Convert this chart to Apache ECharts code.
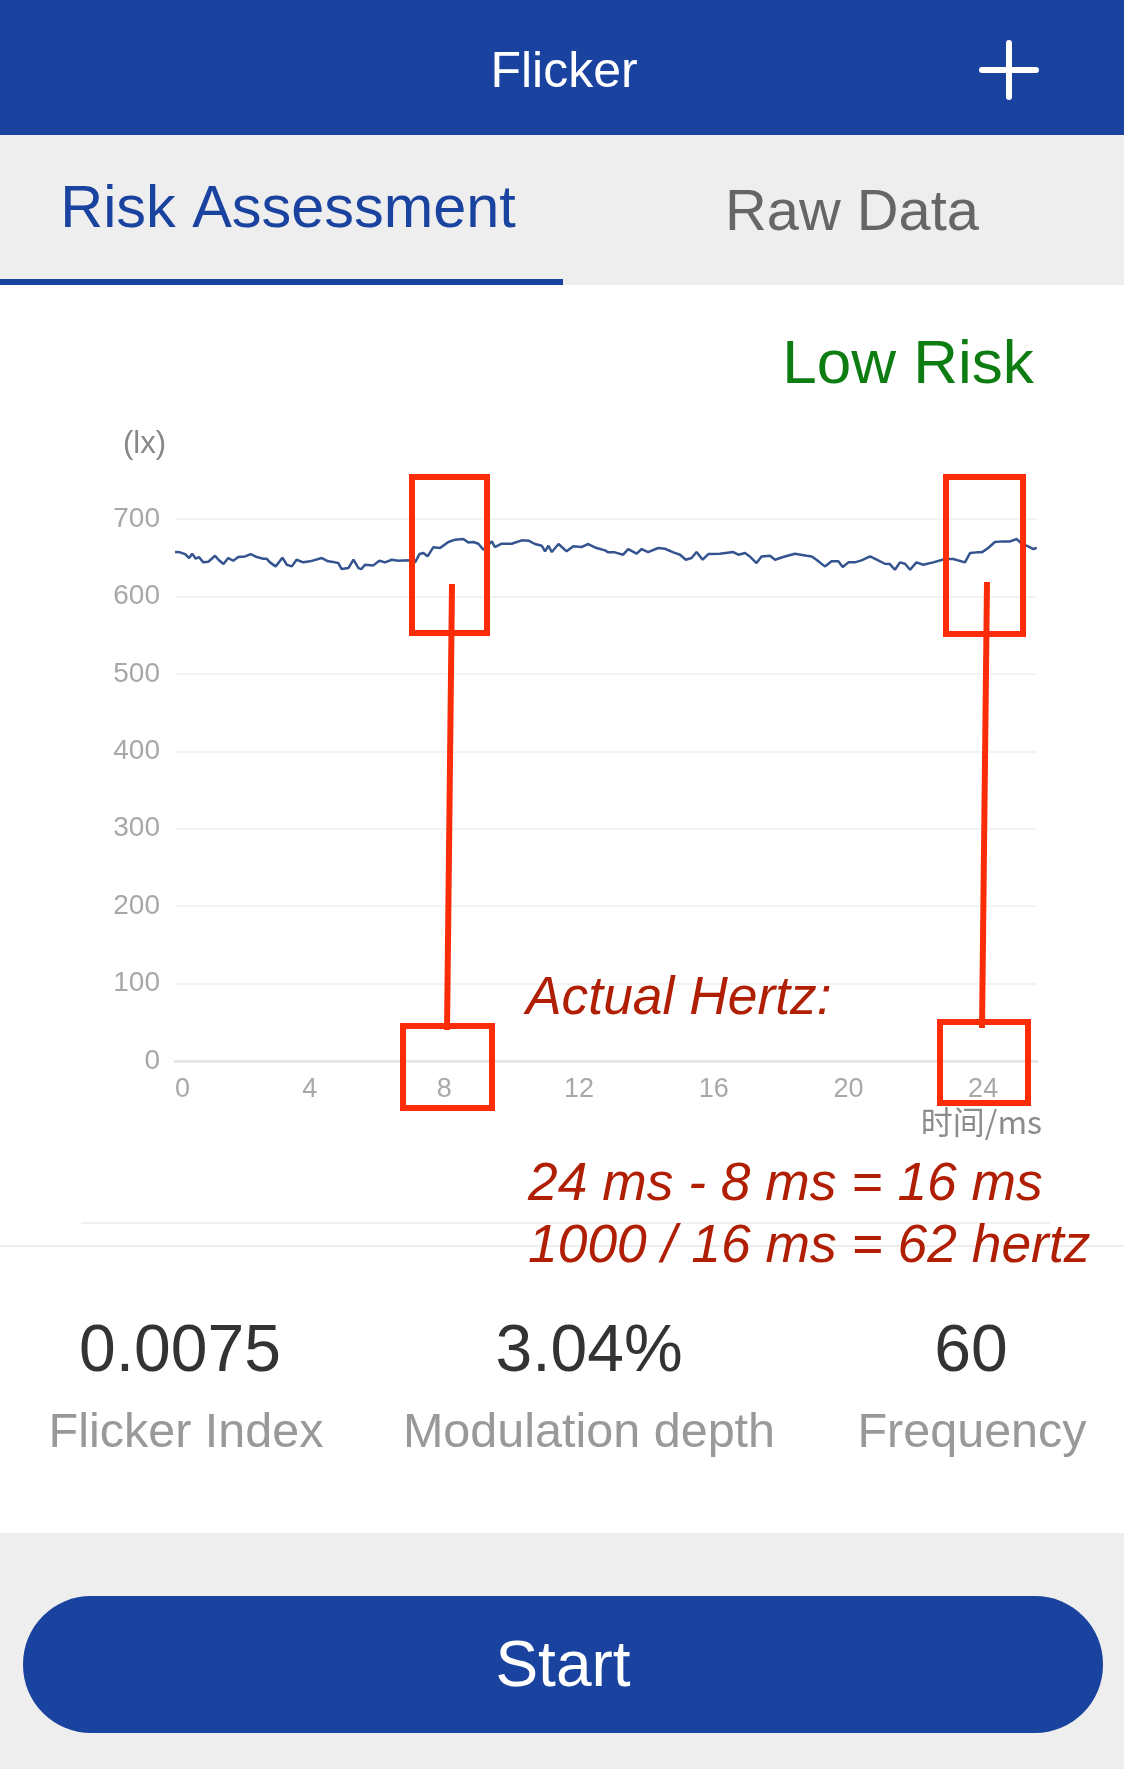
<!DOCTYPE html>
<html>
<head>
<meta charset="utf-8">
<title>Flicker</title>
<style>
  html, body { margin: 0; padding: 0; background: #fff; }
  #main { width: 1124px; height: 1769px; }
</style>
<script src="https://cdn.jsdelivr.net/npm/echarts@6/dist/echarts.min.js"></script>
</head>
<body>
<div id="main"></div>
<script>
// time axis (ms) and illuminance (lx)
var timeMs = [0,0.15,0.3,0.42,0.51,0.62,0.71,0.84,0.99,1.19,1.29,1.44,1.58,1.73,1.88,2.08,2.25,2.43,2.62,2.72,2.82,2.99,3.19,3.32,3.47,3.61,3.81,4.01,4.36,4.55,4.75,4.85,4.95,5.15,5.3,5.45,5.54,5.64,5.89,6.07,6.24,6.44,6.63,6.93,7.13,7.26,7.38,7.5,7.67,7.87,8.12,8.32,8.56,8.71,8.86,9.01,9.16,9.41,9.5,9.7,10,10.3,10.5,10.69,10.89,10.99,11.09,11.19,11.39,11.63,11.83,12.07,12.27,12.52,12.77,12.87,13.06,13.31,13.46,13.71,13.86,14.05,14.35,14.55,14.8,15,15.17,15.34,15.49,15.67,15.84,16.18,16.58,16.73,16.93,17.07,17.27,17.42,17.67,17.82,18.06,18.41,18.76,18.91,19.05,19.3,19.5,19.7,19.83,20,20.19,20.39,20.64,20.84,21.08,21.23,21.38,21.53,21.68,21.83,22.02,22.22,22.52,22.87,23.11,23.46,23.61,23.81,23.96,24.15,24.35,24.6,24.8,25,25.14,25.34,25.49,25.59];
var luxValues = [657.3,656.9,654.7,649.6,655.2,648.7,650.9,644,644.8,652.6,647.4,641.8,649.6,646.1,650.9,651.7,654.7,650.9,648.7,648.7,644,638.8,650,640.9,638.8,647.4,644,645.3,649.6,645.3,644,643.1,635.3,636.6,647.4,636.6,635.3,640.9,640.1,646.1,644,647.4,646.1,646.6,644,654.7,656,651.7,663.4,662.5,670.3,673.3,674.1,669.8,670.3,668.1,660.3,671.1,663.8,668.1,668.1,672.4,672,667.7,665.5,658.2,665.5,657.3,667.7,658.2,664.7,663.8,667.7,662.5,659.5,656.9,656.9,653.9,661.2,655.2,661.2,657.3,662.5,661.6,656.9,653.9,647.4,649.6,657.3,647.4,654.7,655.2,657.3,653.9,656,651.7,643.1,651.7,652.6,647.4,650.9,655.2,652.6,651.7,647.4,638.8,645.3,645.3,637.9,644,644,646.6,651.7,647.4,642.2,641.8,634.5,644,642.2,634.5,644,640.9,644,648.3,648.3,644,656,656.9,656.9,662.5,670.3,671.1,671.1,674.1,668.1,664.7,661.2,662.9];

var statValues = ['0.0075', '3.04%', '60'];
var statLabels = ['Flicker Index', 'Modulation depth', 'Frequency'];
var tabLabels = ['Risk Assessment', 'Raw Data'];

var blue = '#1a43a0';
var red = '#fb2d08';
var darkRed = '#b01f04';
var uiFont = '"Liberation Sans", sans-serif';

function label(text, x, y, size, color, extra) {
	var style = { text: text, x: x, y: y, fill: color, font: size + 'px ' + uiFont, textAlign: 'center', textVerticalAlign: 'middle' };
	for (var k in extra) { style[k] = extra[k]; }
	return { type: 'text', z: 20, style: style };
}
function box(x, y, w, h) {
	return { type: 'rect', z: 15, shape: { x: x, y: y, width: w, height: h }, style: { fill: 'none', stroke: red, lineWidth: 6 } };
}
function stroke(x1, y1, x2, y2, color, width, cap) {
	return { type: 'line', z: 15, shape: { x1: x1, y1: y1, x2: x2, y2: y2 }, style: { stroke: color, lineWidth: width, lineCap: cap || 'butt' } };
}
function panel(x, y, w, h, color, r) {
	return { type: 'rect', z: 5, shape: { x: x, y: y, width: w, height: h, r: r || 0 }, style: { fill: color } };
}

var graphics = [
	// app chrome
	panel(0, 0, 1124, 135, blue),
	panel(0, 135, 1124, 150, '#eeeeee'),
	panel(0, 279, 563, 6, blue),
	panel(0, 1533, 1124, 236, '#eeeeee'),
	panel(23, 1596, 1080, 137, blue, 68),
	label('Flicker', 564, 73, 50, '#ffffff'),
	stroke(982, 70, 1036, 70, '#ffffff', 6, 'round'),
	stroke(1009, 43, 1009, 97, '#ffffff', 6, 'round'),
	label(tabLabels[0], 288, 211, 59.4, blue),
	label(tabLabels[1], 852, 214, 57.8, '#666666'),
	label('Low Risk', 908, 366, 62, '#0d7d12'),
	label('Start', 563, 1668, 64, '#ffffff'),
	stroke(81, 1223, 1050, 1223, '#f0f0f0', 2),
	stroke(0, 1246, 1124, 1246, '#eeeeee', 2),
	// red annotation boxes and connectors
	box(412, 477, 75, 156),
	box(946, 477, 77, 157),
	box(403, 1026, 89, 82),
	box(940, 1022, 88, 81),
	stroke(452, 584, 447, 1030, red, 6),
	stroke(987, 582, 982, 1028, red, 6)
];

var italicFont = 'italic 53.4px "Liberation Sans", sans-serif';
graphics.push(label('Actual Hertz:', 526, 999, 53.4, darkRed, { font: italicFont, textAlign: 'left' }));
graphics.push(label('24 ms - 8 ms = 16 ms', 528, 1185, 53.4, darkRed, { font: italicFont, textAlign: 'left' }));
graphics.push(label('1000 / 16 ms = 62 hertz', 528, 1247, 53.4, darkRed, { font: italicFont, textAlign: 'left' }));

var statX = [180, 589, 971];
var labelX = [186, 589, 972];
for (var i = 0; i < statValues.length; i++) {
	graphics.push(label(statValues[i], statX[i], 1353, 66, '#333333'));
	graphics.push(label(statLabels[i], labelX[i], 1434, 48.5, '#999999'));
}

var lineData = [];
for (var j = 0; j < timeMs.length; j++) {
	lineData.push([timeMs[j], luxValues[j]]);
}

var myChart = echarts.init(document.getElementById('main'));
myChart.setOption({
	animation: false,
	backgroundColor: '#ffffff',
	grid: { left: 175, right: 87, top: 519, bottom: 708, containLabel: false },
	xAxis: {
		type: 'value',
		min: 0,
		max: 25.6,
		interval: 4,
		name: '时间/ms',
		nameLocation: 'end',
		nameGap: 5,
		nameTextStyle: { color: '#8c8c8c', fontSize: 32, fontFamily: '"Noto Sans CJK SC", sans-serif', align: 'right', verticalAlign: 'top', padding: [45, 0, 0, 0] },
		axisLine: { show: true, lineStyle: { color: '#e6e6e6', width: 3 } },
		axisTick: { show: false },
		splitLine: { show: false },
		axisLabel: { color: '#a8a8a8', fontSize: 27, fontFamily: uiFont, margin: 15, showMaxLabel: false, alignMinLabel: 'left' }
	},
	yAxis: {
		type: 'value',
		min: 0,
		max: 700,
		interval: 100,
		name: '(lx)',
		nameLocation: 'end',
		nameGap: 59,
		nameTextStyle: { color: '#888888', fontSize: 31, fontFamily: uiFont, align: 'right', padding: [0, 9, 0, 0] },
		axisLine: { show: false },
		axisTick: { show: false },
		splitLine: { lineStyle: { color: '#f3f3f3', width: 2 } },
		axisLabel: { color: '#a8a8a8', fontSize: 28, fontFamily: uiFont, margin: 15 }
	},
	series: [{
		type: 'line',
		data: lineData,
		showSymbol: false,
		smooth: false,
		lineStyle: { color: '#34548f', width: 2.5 }
	}],
	graphic: { elements: graphics }
});
</script>
</body>
</html>
